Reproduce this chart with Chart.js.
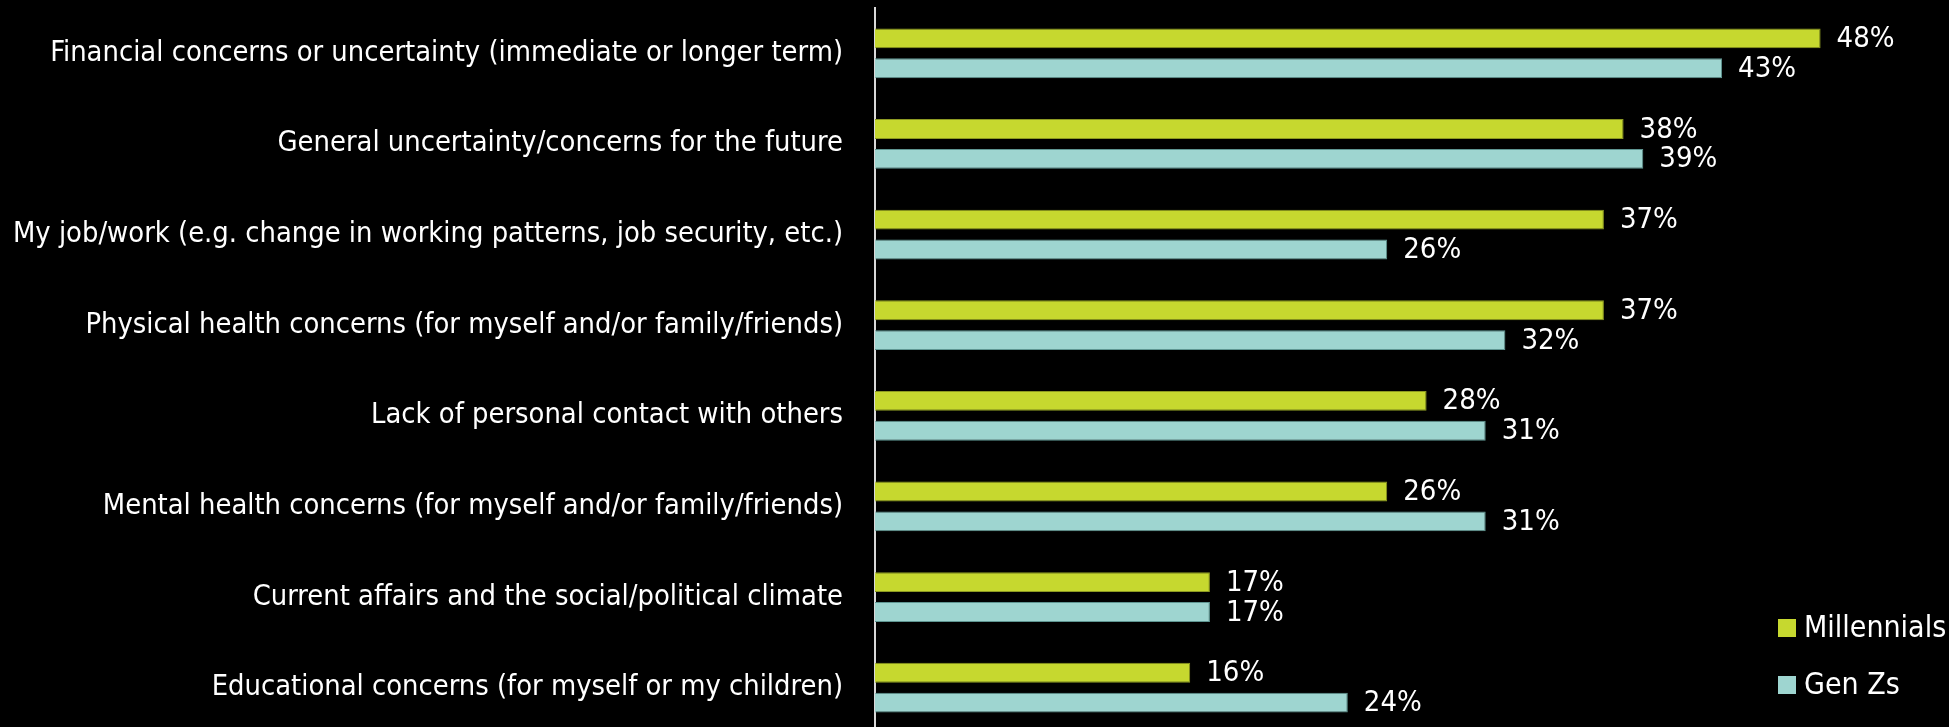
<!DOCTYPE html>
<html>
<head>
<meta charset="utf-8">
<script src="https://cdn.jsdelivr.net/npm/chart.js@4"></script>
<style>
  html, body { margin: 0; padding: 0; background: #000; overflow: hidden; }
  canvas { display: block; }
</style>
</head>
<body>
<canvas id="chart" width="1949" height="735"></canvas>
<script>
const categories = [
  "Financial concerns or uncertainty (immediate or longer term)",
  "General uncertainty/concerns for the future",
  "My job/work (e.g. change in working patterns, job security, etc.)",
  "Physical health concerns (for myself and/or family/friends)",
  "Lack of personal contact with others",
  "Mental health concerns (for myself and/or family/friends)",
  "Current affairs and the social/political climate",
  "Educational concerns (for myself or my children)"
];
const millennials = [48, 38, 37, 37, 28, 26, 17, 16];
const genZs = [43, 39, 26, 32, 31, 31, 17, 24];

const FONT = "'Liberation Sans Narrow', 'DejaVu Sans Condensed', sans-serif";

// value labels at the end of each bar
const valueLabels = {
  id: "valueLabels",
  afterDatasetsDraw(chart) {
    const ctx = chart.ctx;
    ctx.save();
    ctx.fillStyle = "#fff";
    ctx.font = "29px " + FONT;
    ctx.textBaseline = "middle";
    chart.data.datasets.forEach((ds, i) => {
      chart.getDatasetMeta(i).data.forEach((bar, j) => {
        ctx.fillText(ds.data[j] + "%", bar.x + 16, bar.y + 1);
      });
    });
    ctx.restore();
  }
};

// legend sits inside the bottom-right corner
const cornerLegend = {
  id: "cornerLegend",
  afterDraw(chart) {
    const ctx = chart.ctx;
    const x = chart.width - 171;
    const rows = [chart.chartArea.bottom - 105, chart.chartArea.bottom - 48];
    ctx.save();
    ctx.font = "30px " + FONT;
    ctx.textBaseline = "middle";
    chart.data.datasets.forEach((ds, i) => {
      ctx.fillStyle = ds.backgroundColor;
      ctx.fillRect(x, rows[i] - 9, 18, 18);
      ctx.fillStyle = "#fff";
      ctx.fillText(ds.label, x + 26, rows[i] + 1);
    });
    ctx.restore();
  }
};

new Chart(document.getElementById("chart"), {
  type: "bar",
  data: {
    labels: categories,
    datasets: [
      {
        label: "Millennials",
        data: millennials,
        backgroundColor: "#c6d82f",
        borderColor: "#8d9a22",
        borderWidth: 1
      },
      {
        label: "Gen Zs",
        data: genZs,
        backgroundColor: "#9ed5d0",
        borderColor: "#5f9692",
        borderWidth: 1
      }
    ]
  },
  options: {
    indexAxis: "y",
    responsive: false,
    animation: false,
    categoryPercentage: 0.66,
    barPercentage: 0.667,
    layout: { padding: { top: 8, right: 89, bottom: 2, left: 0 } },
    plugins: {
      legend: { display: false },
      tooltip: { enabled: false }
    },
    scales: {
      x: {
        display: false,
        min: 0,
        max: 50
      },
      y: {
        grid: { display: false },
        border: { display: true, color: "#d9d9d9", width: 2 },
        ticks: {
          color: "#fff",
          font: { family: FONT, size: 28.8 },
          padding: 24
        },
        afterFit(scale) {
          scale.width = 875;
          scale.paddingTop = 0;
          scale.paddingBottom = 0;
        }
      }
    }
  },
  plugins: [valueLabels, cornerLegend]
});
</script>
</body>
</html>
